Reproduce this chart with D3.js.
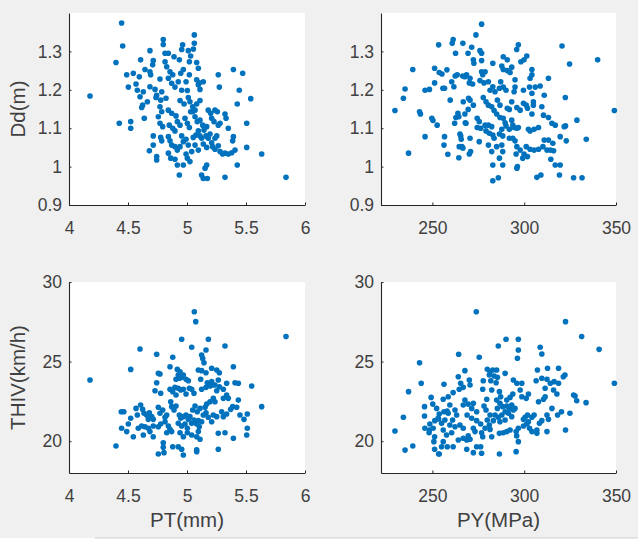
<!DOCTYPE html>
<html>
<head>
<meta charset="utf-8">
<script src="https://cdn.jsdelivr.net/npm/d3@7"></script>
<style>
  body { margin: 0; background: #f0f0f0; }
  svg { display: block; }
</style>
</head>
<body>
<svg id="chart"></svg>
<script>
// axis limits and ticks
const ptDomain = [4, 6];
const pyDomain = [222, 350];
const ddDomain = [0.9, 1.4];
const thivDomain = [18, 30];
const ptTicks = [4, 4.5, 5, 5.5, 6];
const pyTicks = [250, 300, 350];
const ddTicks = [0.9, 1, 1.1, 1.2, 1.3];
const thivTicks = [20, 25, 30];

// PT(mm) vs Dd(m)
const ptDd = [
  [4.178,1.184],[4.446,1.374],[4.455,1.314],[4.398,1.271],[4.799,1.331],[4.799,1.318],[5.062,1.343],[5.062,1.321],
  [5.054,1.306],[4.963,1.317],[4.955,1.305],[4.686,1.302],[5.011,1.302],[5.031,1.288],[4.814,1.295],[4.842,1.295],
  [4.890,1.286],[4.935,1.278],[4.607,1.278],[4.714,1.276],[4.709,1.265],[4.814,1.273],[4.828,1.260],[5.020,1.273],
  [5.082,1.271],[5.096,1.256],[4.969,1.253],[4.947,1.243],[4.644,1.253],[4.686,1.247],[4.692,1.239],[4.489,1.239],
  [4.545,1.243],[4.596,1.234],[4.856,1.247],[4.879,1.239],[4.842,1.230],[4.771,1.228],[5.020,1.239],[4.992,1.221],
  [5.082,1.226],[5.104,1.218],[5.138,1.221],[5.265,1.239],[5.393,1.253],[5.472,1.243],[4.503,1.207],[4.568,1.215],
  [4.579,1.199],[4.630,1.195],[4.602,1.182],[4.686,1.208],[4.729,1.201],[4.743,1.186],[4.786,1.195],[4.870,1.217],
  [4.898,1.207],[4.926,1.221],[4.955,1.199],[5.003,1.198],[5.110,1.201],[5.096,1.213],[5.274,1.207],[5.443,1.199],
  [5.540,1.177],[5.426,1.163],[4.624,1.160],[4.616,1.154],[4.664,1.169],[4.737,1.180],[4.777,1.173],[4.822,1.178],
  [4.941,1.172],[4.975,1.163],[5.011,1.180],[5.025,1.169],[5.048,1.156],[5.082,1.163],[5.110,1.172],[5.068,1.147],
  [5.031,1.143],[4.771,1.156],[4.786,1.143],[4.842,1.147],[4.870,1.139],[4.907,1.132],[4.426,1.113],[4.523,1.117],
  [4.523,1.100],[4.638,1.126],[4.757,1.130],[4.771,1.113],[4.794,1.104],[4.714,1.080],[4.777,1.076],[4.850,1.108],
  [4.879,1.100],[4.898,1.093],[4.918,1.117],[4.941,1.108],[4.983,1.126],[5.003,1.113],[5.020,1.102],[5.048,1.143],
  [5.068,1.130],[5.087,1.117],[5.110,1.121],[5.133,1.108],[5.180,1.147],[5.201,1.139],[5.237,1.147],[5.257,1.143],
  [5.209,1.126],[5.229,1.117],[5.265,1.108],[5.322,1.137],[5.331,1.126],[5.280,1.113],[5.350,1.100],[5.167,1.104],
  [5.144,1.095],[5.096,1.093],[5.076,1.082],[5.053,1.076],[5.110,1.080],[5.124,1.074],[5.161,1.080],[5.180,1.074],
  [5.195,1.085],[5.237,1.074],[5.252,1.080],[5.393,1.078],[5.387,1.067],[5.506,1.050],[5.506,1.113],[4.714,1.056],
  [4.786,1.067],[4.842,1.078],[4.856,1.067],[4.870,1.056],[4.898,1.052],[4.918,1.043],[4.941,1.052],[4.955,1.080],
  [4.969,1.065],[4.992,1.071],[5.011,1.056],[5.040,1.039],[4.992,1.033],[5.068,1.056],[5.096,1.043],[5.138,1.059],
  [5.167,1.050],[5.209,1.062],[5.217,1.052],[5.237,1.045],[5.265,1.054],[5.280,1.039],[5.302,1.033],[5.322,1.035],
  [5.350,1.033],[5.379,1.036],[5.407,1.043],[4.681,1.041],[4.743,1.026],[4.743,1.017],[4.842,1.035],[4.862,1.022],
  [4.898,1.019],[4.918,1.004],[4.969,1.004],[5.003,1.022],[5.025,1.013],[4.935,0.978],[5.167,1.004],[5.153,0.996],
  [5.124,0.978],[5.138,0.969],[5.172,0.969],[5.322,0.972],[5.426,1.004],[5.633,1.033],[5.839,0.972]
];

// PY(MPa) vs Dd(m)
const pyDd = [
  [229.6,1.146],[234.2,1.178],[235.1,1.202],[237.0,1.035],[239.3,1.253],[243.0,1.143],[243.5,1.137],[246.0,1.078],
  [246.0,1.199],[248.4,1.201],[249.7,1.126],[250.3,1.120],[251.2,1.256],[251.2,1.218],[252.6,1.108],[253.4,1.317],
  [255.2,1.241],[255.7,1.204],[256.6,1.204],[256.6,1.078],[256.3,1.056],[257.9,1.252],[258.4,1.032],[259.7,1.173],
  [260.8,1.321],[261.3,1.331],[261.7,1.208],[262.4,1.236],[262.1,1.113],[262.6,1.295],[263.9,1.139],[264.4,1.130],
  [264.4,1.023],[265.4,1.080],[265.7,1.071],[266.1,1.052],[266.6,1.048],[266.6,1.321],[267.6,1.234],[267.9,1.114],
  [269.4,1.295],[269.7,1.178],[276.8,1.371],[273.7,1.343],[271.4,1.311],[275.9,1.302],[276.8,1.295],[272.3,1.278],
  [272.6,1.269],[276.8,1.276],[282.9,1.269],[288.6,1.286],[290.8,1.278],[287.8,1.262],[288.6,1.253],[290.8,1.250],
  [293.2,1.259],[292.3,1.245],[296.8,1.317],[295.9,1.305],[298.2,1.273],[301.4,1.288],[299.9,1.278],[304.2,1.253],
  [303.2,1.230],[304.2,1.239],[320.6,1.314],[324.7,1.267],[313.2,1.230],[253.7,1.245],[260.5,1.221],[263.5,1.239],
  [266.5,1.236],[268.6,1.239],[270.5,1.230],[270.1,1.218],[271.9,1.215],[276.8,1.247],[277.4,1.239],[278.7,1.247],
  [275.9,1.224],[278.1,1.218],[280.5,1.221],[282.9,1.208],[284.1,1.195],[281.4,1.199],[287.2,1.221],[286.5,1.204],
  [288.6,1.207],[290.1,1.199],[295.0,1.226],[295.0,1.207],[294.5,1.195],[299.6,1.199],[302.9,1.207],[306.0,1.207],
  [308.7,1.210],[304.2,1.191],[310.9,1.186],[322.4,1.180],[266.8,1.169],[270.5,1.173],[272.3,1.160],[269.5,1.149],
  [267.7,1.137],[277.7,1.180],[279.2,1.169],[280.5,1.160],[282.3,1.156],[283.6,1.146],[285.0,1.137],[286.8,1.128],
  [285.4,1.173],[286.8,1.160],[290.8,1.152],[291.9,1.149],[293.2,1.169],[296.0,1.154],[297.8,1.147],[299.6,1.165],
  [301.1,1.160],[301.8,1.152],[305.0,1.169],[305.0,1.160],[304.2,1.137],[309.6,1.156],[310.5,1.134],[262.8,1.128],
  [268.3,1.113],[274.4,1.126],[275.5,1.117],[274.4,1.102],[276.3,1.100],[278.7,1.108],[280.5,1.108],[282.3,1.104],
  [279.2,1.093],[281.0,1.087],[282.9,1.082],[283.6,1.074],[288.6,1.126],[289.6,1.114],[290.1,1.106],[293.2,1.121],
  [293.8,1.108],[287.8,1.097],[286.5,1.085],[288.3,1.080],[291.9,1.097],[294.5,1.102],[296.0,1.100],[296.8,1.102],
  [302.3,1.097],[303.2,1.093],[305.4,1.097],[307.8,1.102],[313.2,1.128],[315.1,1.113],[316.9,1.108],[321.8,1.104],
  [328.7,1.121],[333.8,1.071],[265.0,1.085],[264.6,1.052],[270.5,1.074],[270.8,1.039],[270.1,1.033],[275.5,1.065],
  [280.5,1.056],[282.3,1.039],[285.0,1.052],[287.8,1.056],[288.3,1.039],[282.9,1.004],[286.5,1.022],[288.3,1.004],
  [282.9,0.963],[285.9,0.971],[291.9,1.074],[293.8,1.074],[295.0,1.067],[296.0,1.052],[295.6,1.033],[296.3,1.000],
  [296.0,0.996],[297.8,1.043],[299.9,1.033],[301.8,1.026],[299.2,1.022],[301.1,1.052],[303.2,1.045],[305.4,1.043],
  [307.8,1.045],[310.2,1.052],[312.4,1.043],[314.2,1.043],[316.0,1.041],[315.6,1.061],[313.2,1.069],[310.9,1.069],
  [319.6,1.078],[322.9,1.067],[314.5,1.019],[316.9,1.004],[319.6,1.004],[319.2,0.978],[306.9,0.972],[309.1,0.978],
  [326.9,0.971],[331.5,0.971],[340.0,1.278],[349.1,1.146],[322.5,1.106]
];

// PT(mm) vs THIV(km/h)
const ptThiv = [
  [4.178,23.84],[4.398,19.70],[4.443,21.85],[4.465,21.85],[4.446,20.81],[4.489,20.60],[4.523,24.51],[4.545,20.28],
  [4.602,25.79],[4.743,25.46],[4.757,19.19],[4.805,19.28],[4.955,26.40],[5.040,25.90],[5.062,28.13],[5.074,27.51],
  [5.181,26.40],[5.322,25.98],[5.839,26.57],[5.548,23.47],[5.633,22.17],[5.511,21.71],[5.511,20.81],[5.506,20.39],
  [5.393,20.18],[5.393,24.68],[5.435,23.64],[5.435,22.58],[5.336,23.64],[5.265,19.49],[5.082,19.45],[5.082,19.34],
  [4.879,25.27],[5.124,25.41],[5.133,25.20],[5.144,24.93],[5.161,25.73],[4.757,24.26],[4.771,24.22],[4.856,24.68],
  [4.918,24.51],[4.941,24.36],[4.926,24.16],[4.935,23.95],[4.955,24.01],[4.907,23.89],[4.969,24.16],[4.992,23.89],
  [5.011,23.80],[5.096,24.47],[5.124,24.43],[5.161,24.30],[5.209,24.58],[5.252,24.47],[5.274,24.30],[5.116,23.89],
  [5.172,23.67],[5.209,23.74],[5.237,23.53],[5.265,23.84],[5.407,23.67],[4.743,23.67],[4.729,23.17],[4.777,23.01],
  [4.856,23.26],[4.879,23.11],[4.898,23.38],[4.907,22.90],[4.926,23.32],[4.947,23.21],[4.969,23.26],[4.992,22.96],
  [5.020,23.32],[5.040,23.26],[5.059,23.01],[5.124,23.26],[5.161,23.38],[5.195,23.47],[5.223,23.53],[5.252,23.17],
  [5.274,23.42],[5.308,23.26],[5.336,22.90],[5.350,22.69],[5.308,22.69],[5.223,22.69],[5.237,22.48],[5.195,22.48],
  [5.167,22.33],[5.153,22.13],[5.387,22.17],[5.421,22.13],[5.265,20.49],[4.969,19.13],[4.955,19.49],[4.926,19.65],
  [4.879,19.65],[4.799,19.90],[4.799,19.61],[4.630,20.39],[4.714,20.28],[4.686,20.60],[4.503,21.08],[4.523,21.44],
  [4.568,22.06],[4.579,21.64],[4.607,22.27],[4.624,22.00],[4.636,21.75],[4.658,21.64],[4.681,21.79],[4.701,21.54],
  [4.672,21.37],[4.714,21.37],[4.587,20.81],[4.616,20.95],[4.644,20.91],[4.672,20.81],[4.714,20.95],[4.757,20.91],
  [4.777,21.08],[4.757,22.13],[4.771,21.75],[4.794,21.96],[4.814,21.50],[4.828,21.64],[4.814,21.22],[4.842,20.95],
  [4.856,20.74],[4.828,20.53],[4.870,20.60],[4.862,22.48],[4.870,22.17],[4.890,21.96],[4.907,22.21],[4.935,21.64],
  [4.947,21.44],[4.969,21.54],[4.992,21.64],[5.011,21.37],[5.025,21.54],[4.926,21.12],[4.955,20.95],[4.983,21.08],
  [5.003,20.81],[5.040,21.12],[5.059,21.33],[5.082,21.08],[5.096,21.29],[5.104,20.91],[5.048,21.96],[5.068,22.21],
  [5.087,21.85],[5.110,22.06],[5.003,20.53],[5.040,20.39],[5.082,20.28],[5.096,20.60],[5.110,20.12],[4.969,20.28],
  [4.941,20.53],[5.138,21.64],[5.161,21.79],[5.180,21.50],[5.223,21.64],[5.209,21.22],[5.252,21.54],[5.294,21.85],
  [5.308,21.54],[5.336,21.71],[5.370,22.00],[5.322,20.53],[5.124,21.22],[5.449,21.64],[5.483,21.37]
];

// PY(MPa) vs THIV(km/h)
const pyThiv = [
  [229.6,20.64],[234.2,21.50],[235.1,19.44],[237.0,23.11],[239.3,19.70],[243.0,24.93],[243.9,23.64],[245.7,22.17],
  [245.7,21.58],[248.4,20.70],[249.3,22.75],[250.2,22.33],[251.2,20.28],[251.2,19.49],[253.4,21.39],[253.4,19.19],
  [256.3,23.57],[256.3,21.85],[258.0,21.90],[264.3,25.46],[340.8,25.77],[349.1,23.64],[331.3,26.57],[322.5,27.51],
  [273.9,28.13],[333.7,22.42],[327.7,22.84],[328.6,22.54],[324.9,21.75],[322.5,20.70],[320.3,21.85],[322.2,24.16],
  [321.3,24.05],[290.1,26.40],[296.8,26.40],[285.9,25.98],[296.8,25.73],[296.3,25.21],[308.7,25.90],[309.6,25.48],
  [275.5,25.27],[267.7,24.43],[264.1,24.05],[265.4,23.64],[266.8,23.38],[270.1,23.84],[270.5,23.53],[277.7,23.80],
  [277.4,23.26],[279.9,24.52],[281.4,24.36],[282.9,24.47],[285.0,24.47],[281.0,24.16],[283.6,24.09],[285.4,24.01],
  [281.8,23.80],[284.7,23.67],[289.6,24.26],[294.1,23.84],[296.0,23.64],[298.7,23.64],[282.3,23.21],[286.5,23.11],
  [287.2,22.79],[285.0,22.58],[290.5,22.58],[292.3,22.75],[293.8,22.96],[297.8,23.21],[298.7,22.79],[302.3,22.96],
  [301.1,22.69],[306.5,23.80],[309.6,23.95],[311.4,23.32],[312.4,23.89],[314.2,23.64],[316.3,23.74],[318.7,23.64],
  [307.2,24.47],[312.7,24.58],[318.7,24.58],[316.0,23.21],[317.8,22.96],[311.4,22.79],[307.8,22.48],[310.5,22.63],
  [326.9,22.90],[315.1,22.06],[318.2,21.64],[312.4,21.64],[313.2,21.37],[309.6,21.29],[308.3,21.12],[305.4,21.64],
  [304.2,21.50],[301.8,21.64],[300.5,21.50],[299.6,21.37],[302.3,21.22],[301.4,21.08],[299.6,20.95],[302.9,20.81],
  [304.2,20.60],[306.9,20.49],[286.8,22.38],[288.3,22.17],[290.5,22.21],[291.9,22.06],[293.2,22.27],[294.1,21.96],
  [289.6,21.85],[287.8,21.64],[291.4,21.75],[293.2,21.54],[295.0,22.06],[285.4,22.06],[284.1,21.64],[285.9,21.50],
  [283.2,21.29],[286.8,21.22],[289.6,21.33],[279.6,22.63],[278.1,22.21],[279.2,21.96],[281.4,21.64],[279.9,21.33],
  [281.0,21.02],[278.7,20.81],[276.8,20.53],[281.4,20.74],[282.3,20.28],[286.5,20.49],[288.6,20.53],[290.5,20.60],
  [292.3,20.70],[295.6,20.60],[296.8,20.81],[295.9,20.33],[296.8,19.97],[295.6,19.34],[286.5,19.19],[274.1,21.85],
  [271.4,22.06],[269.5,22.33],[272.3,22.38],[267.7,22.58],[266.8,22.27],[268.9,21.64],[271.4,21.44],[274.1,21.29],
  [276.3,21.08],[272.3,20.81],[273.2,20.60],[269.5,20.33],[270.5,20.12],[277.4,20.28],[276.3,19.65],[274.1,19.65],
  [272.3,19.28],[268.7,19.49],[276.8,19.24],[264.6,23.26],[261.3,23.05],[258.6,22.79],[255.9,22.63],[259.5,22.27],
  [262.3,21.96],[258.6,21.75],[263.2,21.64],[261.0,21.33],[256.8,21.33],[259.5,21.02],[262.3,20.91],[265.0,21.02],
  [266.8,20.81],[252.3,22.06],[253.7,21.71],[251.3,21.29],[248.6,21.08],[250.4,20.81],[245.9,20.81],[248.2,20.53],
  [253.1,21.44],[255.0,21.12],[255.9,20.70],[257.7,20.39],[260.5,20.53],[250.8,19.97],[255.9,19.97],[255.0,19.65],
  [258.1,19.65],[261.3,19.65],[264.1,20.07],[266.8,20.18],[268.7,20.07],[253.7,19.19],[312.4,20.60],[306.9,20.70]
];

const width = 638;
const height = 540;
const dotColor = "#0072BD";
const inkColor = "#262626";
const font = "'Liberation Sans', Arial, sans-serif";

const svg = d3.select("#chart")
  .attr("width", width)
  .attr("height", height)
  .style("font-family", font);

svg.append("rect")
  .attr("width", width)
  .attr("height", height)
  .attr("fill", "#f0f0f0");

// white strip and thin edge line at the very bottom of the window
svg.append("rect")
  .attr("y", 538)
  .attr("width", width)
  .attr("height", 2)
  .attr("fill", "#ffffff");
svg.append("line")
  .attr("x1", 95).attr("x2", width)
  .attr("y1", 538).attr("y2", 538)
  .attr("stroke", "#cfcfcf");

const panels = [
  { data: ptDd,   xDomain: ptDomain, yDomain: ddDomain,   xTicks: ptTicks, yTicks: ddTicks,   left: 69,  top: 13,  w: 236, h: 192, yLabel: "Dd(m)" },
  { data: pyDd,   xDomain: pyDomain, yDomain: ddDomain,   xTicks: pyTicks, yTicks: ddTicks,   left: 381, top: 13,  w: 235, h: 192 },
  { data: ptThiv, xDomain: ptDomain, yDomain: thivDomain, xTicks: ptTicks, yTicks: thivTicks, left: 69,  top: 282, w: 236, h: 191, yLabel: "THIV(km/h)", xLabel: "PT(mm)" },
  { data: pyThiv, xDomain: pyDomain, yDomain: thivDomain, xTicks: pyTicks, yTicks: thivTicks, left: 381, top: 282, w: 235, h: 191, xLabel: "PY(MPa)" }
];

panels.forEach(p => {
  const g = svg.append("g").attr("transform", `translate(${p.left},${p.top})`);

  const x = d3.scaleLinear().domain(p.xDomain).range([0, p.w]);
  const y = d3.scaleLinear().domain(p.yDomain).range([p.h, 0]);

  g.append("rect")
    .attr("width", p.w)
    .attr("height", p.h)
    .attr("fill", "#ffffff");

  g.append("g")
    .selectAll("circle")
    .data(p.data)
    .join("circle")
    .attr("cx", d => x(d[0]))
    .attr("cy", d => y(d[1]))
    .attr("r", 2.8)
    .attr("fill", dotColor);

  const xAxis = g.append("g")
    .attr("transform", `translate(0,${p.h})`)
    .call(d3.axisBottom(x).tickValues(p.xTicks).tickFormat(d => String(d))
      .tickSizeInner(-2.5).tickSizeOuter(0).tickPadding(17));

  const yAxis = g.append("g")
    .call(d3.axisLeft(y).tickValues(p.yTicks).tickFormat(d => String(d))
      .tickSizeInner(-2.5).tickSizeOuter(0).tickPadding(7));

  [xAxis, yAxis].forEach(a => {
    a.select(".domain").attr("stroke", inkColor).attr("stroke-width", 1.1);
    a.selectAll(".tick line").attr("stroke", inkColor);
    a.selectAll(".tick text")
      .attr("fill", "#404040")
      .style("font-family", font)
      .style("font-size", "17.5px");
  });

  if (p.yLabel) {
    g.append("text")
      .attr("transform", `translate(${25 - p.left},${p.h / 2}) rotate(-90)`)
      .attr("text-anchor", "middle")
      .attr("fill", "#404040")
      .style("font-size", "20.5px")
      .text(p.yLabel);
  }

  if (p.xLabel) {
    g.append("text")
      .attr("x", p.w / 2)
      .attr("y", 527 - p.top)
      .attr("text-anchor", "middle")
      .attr("fill", "#404040")
      .style("font-size", "20.5px")
      .text(p.xLabel);
  }
});
</script>
</body>
</html>
